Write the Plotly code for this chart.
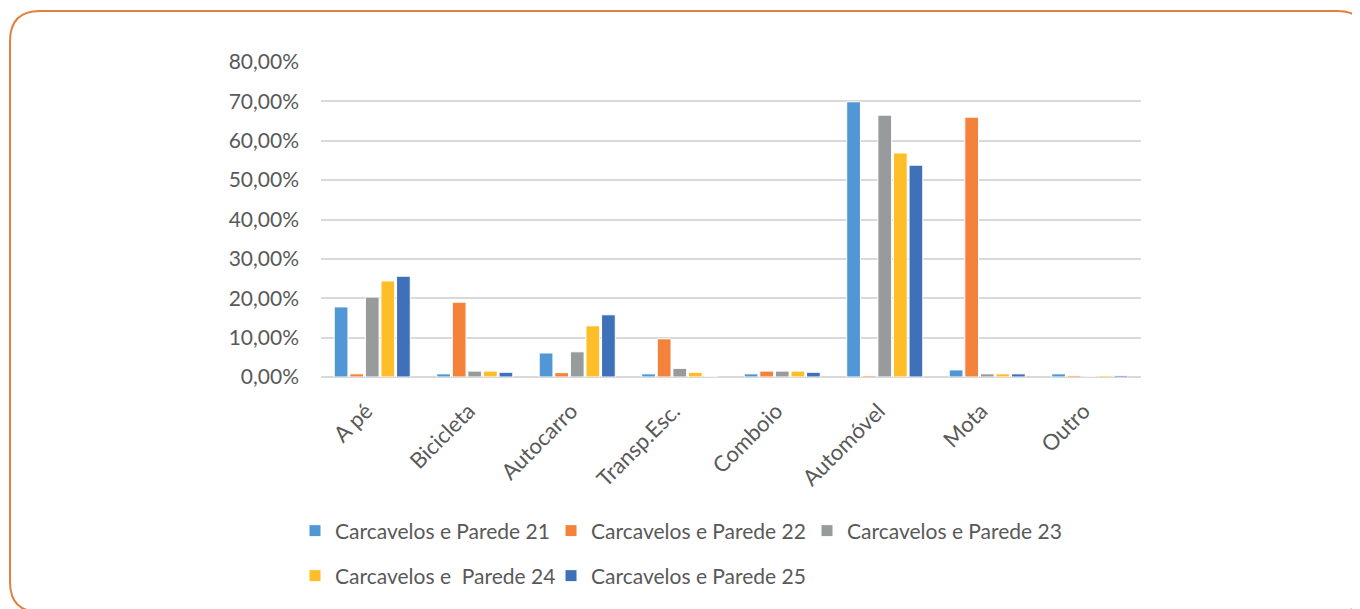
import plotly.graph_objects as go

# modes of transport (x axis)
categories = ["A pé", "Bicicleta", "Autocarro", "Transp.Esc.", "Comboio",
              "Automóvel", "Mota", "Outro"]

# shares per class (fractions)
parede_21 = [0.178, 0.008, 0.061, 0.008, 0.008, 0.699, 0.018, 0.008]
parede_22 = [0.008, 0.190, 0.011, 0.097, 0.015, 0.004, 0.660, 0.004]
parede_23 = [0.203, 0.015, 0.064, 0.022, 0.015, 0.665, 0.008, 0.000]
parede_24 = [0.244, 0.015, 0.130, 0.012, 0.015, 0.569, 0.008, 0.004]
parede_25 = [0.256, 0.012, 0.158, 0.000, 0.012, 0.538, 0.008, 0.004]

series_names = ["Carcavelos e Parede 21", "Carcavelos e Parede 22",
                "Carcavelos e Parede 23", "Carcavelos e  Parede 24",
                "Carcavelos e Parede 25"]
series_values = [parede_21, parede_22, parede_23, parede_24, parede_25]
colors = ["#5197D5", "#F3823B", "#989B9B", "#FEBE27", "#3F71BA"]

W, H = 1360, 609
OFF = 8  # page body margin
# plot area in screen pixels
L, R, T, B = 321, 1141, 62, 377
FONT = "Lato"
TEXT = "#595959"


def px(x):
    return (x - L) / (R - L)


def py(y):
    return (B - y) / (B - T)


fig = go.Figure()
for i, (name, vals, col) in enumerate(zip(series_names, series_values, colors)):
    fig.add_trace(go.Bar(
        x=categories, y=vals, name=name,
        marker=dict(color=col, line=dict(color="white", width=1)),
        legend="legend" if i < 3 else "legend2",
    ))

# rounded border around the chart
x0, y0, x1, y1, r = 10, 11, 1367, 612, 30
path = (
    f"M {px(x0 + r)},{py(y0)} L {px(x1 - r)},{py(y0)} "
    f"Q {px(x1)},{py(y0)} {px(x1)},{py(y0 + r)} "
    f"L {px(x1)},{py(y1 - r)} Q {px(x1)},{py(y1)} {px(x1 - r)},{py(y1)} "
    f"L {px(x0 + r)},{py(y1)} Q {px(x0)},{py(y1)} {px(x0)},{py(y1 - r)} "
    f"L {px(x0)},{py(y0 + r)} Q {px(x0)},{py(y0)} {px(x0 + r)},{py(y0)} Z"
)

legend_common = dict(
    orientation="h", xanchor="left", yanchor="middle",
    font=dict(family=FONT, size=21, color=TEXT),
    bgcolor="rgba(0,0,0,0)", itemwidth=30, traceorder="normal",
    entrywidth=211,
)

fig.update_layout(
    width=W, height=H,
    margin=dict(l=L - OFF, r=W - R + OFF, t=T - OFF, b=H - B + OFF),
    paper_bgcolor="white", plot_bgcolor="white",
    separators=",.",
    barmode="group", bargap=0.24, bargroupgap=0.12,
    font=dict(family=FONT, size=21, color=TEXT),
    showlegend=True,
    legend=dict(x=px(295), y=py(531), **legend_common),
    legend2=dict(x=px(295), y=py(576), **legend_common),
    shapes=[dict(type="path", xref="paper", yref="paper", path=path,
                 line=dict(color="#E0823F", width=2), layer="below")],
)
fig.update_xaxes(
    tickangle=-45, showgrid=False, showline=False, ticks="",
    ticklabelstandoff=16, ticklabelshift=-6,
    tickfont=dict(family=FONT, size=22, color=TEXT),
)
fig.update_yaxes(
    range=[0, 0.8], dtick=0.1, tickformat=".2%",
    showgrid=True, gridcolor="#D9D9D9", gridwidth=2,
    zeroline=True, zerolinecolor="#D9D9D9", zerolinewidth=2,
    showline=False, ticks="", ticklen=0, ticklabelstandoff=21,
    tickfont=dict(family=FONT, size=21, color=TEXT),
)

fig.write_html("out.html")
